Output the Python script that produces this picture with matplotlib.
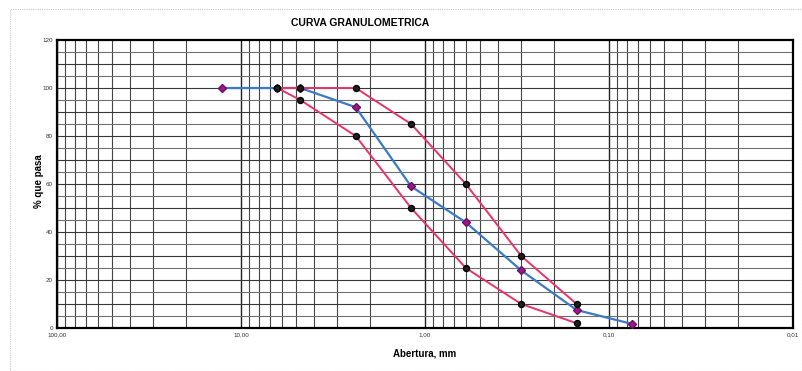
import numpy as np
import matplotlib.pyplot as plt
from matplotlib.ticker import FixedLocator, FuncFormatter
from matplotlib.patches import Rectangle

plt.rcParams['font.family'] = ['Liberation Sans', 'DejaVu Sans']

# abertura (mm) y % que pasa
tamiz = [12.7, 6.35, 4.76, 2.38, 1.19, 0.6, 0.3, 0.15, 0.075]
muestra = [100, 100, 100, 92, 59, 44, 24, 7.5, 1.7]

tamiz_lim = [6.35, 4.76, 2.38, 1.19, 0.6, 0.3, 0.15]
lim_sup = [100, 100, 100, 85, 60, 30, 10]
lim_inf = [100, 95, 80, 50, 25, 10, 2]

x_ticks = [100, 10, 1, 0.1, 0.01]
x_labels = ['100,00', '10,00', '1,00', '0,10', '0,01']
y_ticks = [0, 20, 40, 60, 80, 100, 120]

fig = plt.figure(figsize=(8.03, 3.71), dpi=100)
# marco del grafico
fig.patches.append(Rectangle((10/803, 0), 792/803, 1-9/371, transform=fig.transFigure,
                             fill=False, edgecolor='#c8c8c8', lw=0.8, ls=(0, (1, 1))))
ax = fig.add_axes([57/803, 1-328/371, 736/803, 288/371])

ax.set_xscale('log')
ax.set_xlim(100, 0.01)
ax.set_ylim(0, 120)

# rejilla
minors = [m * 10.0**e for e in range(-2, 2) for m in range(2, 10)]
for v in minors:
    ax.axvline(v, color='#444444', lw=0.8, zorder=1)
for v in x_ticks:
    ax.axvline(v, color='#222222', lw=1.0, zorder=1)
for v in range(5, 120, 5):
    ax.axhline(v, color='#383838' if v % 10 == 0 else '#707070', lw=0.8, zorder=1)

ax.plot(tamiz, muestra, color='#3c7ac4', lw=1.6, marker='D', ms=4.5,
        mfc='#a0158a', mec='#6a1060', zorder=3)
ax.plot(tamiz_lim, lim_sup, color='#e8336b', lw=1.4, marker='o', ms=4.3,
        mfc='#202020', mec='#000000', zorder=4)
ax.plot(tamiz_lim, lim_inf, color='#e8336b', lw=1.4, marker='o', ms=4.3,
        mfc='#202020', mec='#000000', zorder=4)

ax.xaxis.set_major_locator(FixedLocator(x_ticks))
ax.xaxis.set_minor_locator(FixedLocator([]))
ax.set_xticklabels(x_labels)
ax.set_yticks(y_ticks)
ax.tick_params(axis='both', length=0, labelsize=4.5, colors='#333333', pad=3)

for s in ax.spines.values():
    s.set_linewidth(1.6)
    s.set_color('black')

ax.set_xlabel('Abertura, mm', fontsize=7, fontweight='bold', labelpad=8)
ax.set_ylabel('% que pasa', fontsize=7, fontweight='bold')
ax.yaxis.set_label_coords(-0.018, 0.51)
fig.text(360/803, 1-23/371, 'CURVA GRANULOMETRICA', ha='center', va='center',
         fontsize=7.5, fontweight='bold')

plt.savefig('out.png', dpi=100)
